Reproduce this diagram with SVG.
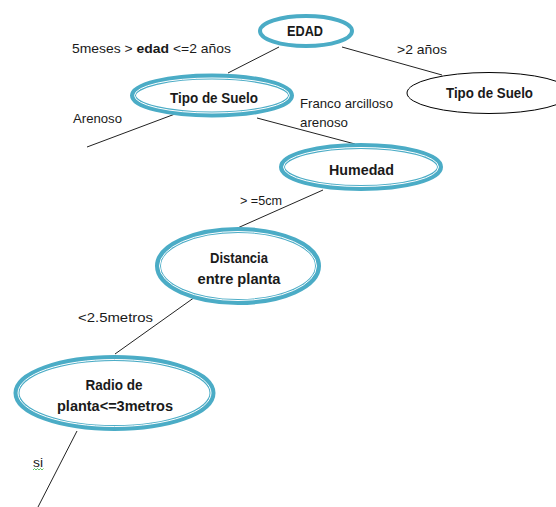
<svg xmlns="http://www.w3.org/2000/svg" width="556" height="507" viewBox="0 0 556 507">
<style>
.bg{fill:#ffffff}
.thick{fill:#ffffff;stroke:#4BACC6;stroke-width:4}
.dbl{fill:#ffffff;stroke:#4BACC6;stroke-width:6}
.dbl-in{fill:none;stroke:#ffffff;stroke-width:1}
.plain{fill:#ffffff;stroke:#000000;stroke-width:1}
.edge{stroke:#222222;stroke-width:1;fill:none}
.nl{font-family:"Liberation Sans",Arial,sans-serif;font-size:14px;font-weight:bold;fill:#1a1a1a;text-anchor:middle}
.el{font-family:"Liberation Sans",Arial,sans-serif;font-size:13px;fill:#1a1a1a}
</style>
<rect class="bg" x="0" y="0" width="556" height="507"/>
<g id="connectors">
<line class="edge" x1="279" y1="47" x2="228" y2="73"/>
<line class="edge" x1="342" y1="47" x2="442" y2="75"/>
<line class="edge" x1="175" y1="114" x2="87" y2="147"/>
<line class="edge" x1="257" y1="118" x2="355" y2="144"/>
<line class="edge" x1="323" y1="190" x2="233" y2="230"/>
<line class="edge" x1="195" y1="297" x2="115" y2="354"/>
<line class="edge" x1="77" y1="431" x2="38" y2="507"/>
</g>
<g id="edge-labels">
<text class="el" x="72" y="53" textLength="159" lengthAdjust="spacingAndGlyphs">5meses &gt; <tspan font-weight="bold">edad</tspan> &lt;=2 años</text>
<text class="el" x="397" y="54" textLength="50" lengthAdjust="spacingAndGlyphs">&gt;2 años</text>
<text class="el" x="73" y="123" textLength="49" lengthAdjust="spacingAndGlyphs">Arenoso</text>
<text class="el" x="300" y="108" textLength="93" lengthAdjust="spacingAndGlyphs">Franco arcilloso</text>
<text class="el" x="300" y="127" textLength="48" lengthAdjust="spacingAndGlyphs">arenoso</text>
<text class="el" x="240" y="205" textLength="42" lengthAdjust="spacingAndGlyphs">&gt; =5cm</text>
<text class="el" x="78" y="322" textLength="75" lengthAdjust="spacingAndGlyphs">&lt;2.5metros</text>
<text class="el" x="33" y="467" textLength="10" lengthAdjust="spacingAndGlyphs">si</text>
<path d="M33,470 l1.5,-1.5 l1.5,1.5 l1.5,-1.5 l1.5,1.5 l1.5,-1.5 l1.5,1.5 l1.5,-1.5" fill="none" stroke="#3cb043" stroke-width="0.8"/>
</g>
<g id="node-edad">
<ellipse class="thick" cx="306" cy="31" rx="46" ry="15"/>
<text class="nl" x="305" y="36" textLength="36" lengthAdjust="spacingAndGlyphs">EDAD</text>
</g>
<g id="node-tipo-suelo-2">
<ellipse class="plain" cx="489" cy="93" rx="82" ry="20.5"/>
<text class="nl" x="489.5" y="98" textLength="87" lengthAdjust="spacingAndGlyphs">Tipo de Suelo</text>
</g>
<g id="node-tipo-suelo-1">
<ellipse class="dbl" cx="212" cy="95.5" rx="79" ry="19"/>
<ellipse class="dbl-in" cx="212" cy="95.5" rx="77.5" ry="17.5"/>
<text class="nl" x="214" y="103" textLength="88" lengthAdjust="spacingAndGlyphs">Tipo de Suelo</text>
</g>
<g id="node-humedad">
<ellipse class="dbl" cx="361" cy="167" rx="79" ry="21"/>
<ellipse class="dbl-in" cx="361" cy="167" rx="77.5" ry="19.5"/>
<text class="nl" x="361.5" y="175" textLength="65" lengthAdjust="spacingAndGlyphs">Humedad</text>
</g>
<g id="node-distancia">
<ellipse class="dbl" cx="238" cy="266" rx="80" ry="36"/>
<ellipse class="dbl-in" cx="238" cy="266" rx="78.5" ry="34.5"/>
<text class="nl" x="239" y="263" textLength="58" lengthAdjust="spacingAndGlyphs">Distancia</text>
<text class="nl" x="239" y="284" textLength="83" lengthAdjust="spacingAndGlyphs">entre planta</text>
</g>
<g id="node-radio">
<ellipse class="dbl" cx="114.5" cy="393" rx="98" ry="35"/>
<ellipse class="dbl-in" cx="114.5" cy="393" rx="96.5" ry="33.5"/>
<text class="nl" x="114" y="390" textLength="57" lengthAdjust="spacingAndGlyphs">Radio de</text>
<text class="nl" x="115" y="411" textLength="116" lengthAdjust="spacingAndGlyphs">planta&lt;=3metros</text>
</g>
</svg>
